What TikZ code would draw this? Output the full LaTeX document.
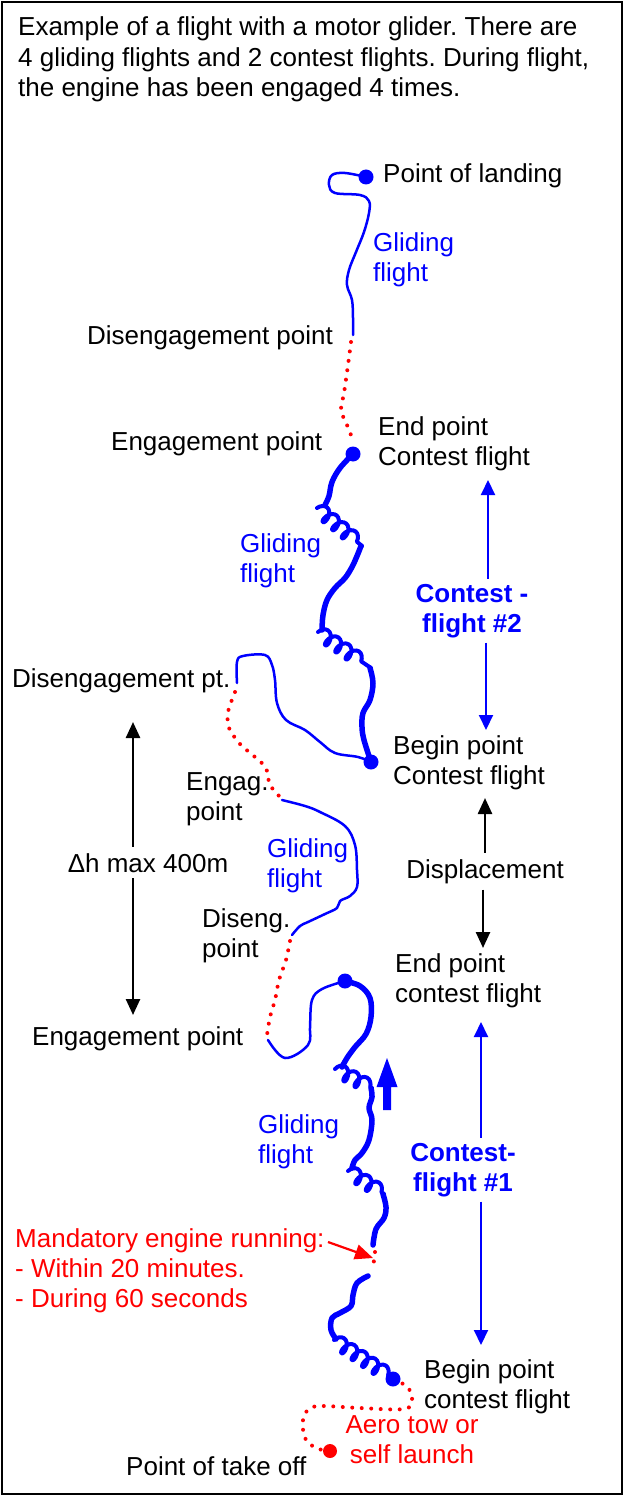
\documentclass[tikz,border=0pt]{standalone}
\usepackage{fontspec}
\setmainfont{Liberation Sans}
\usetikzlibrary{arrows.meta,decorations.pathmorphing}
\definecolor{tblue}{RGB}{0,0,255}
\definecolor{tred}{RGB}{255,0,0}
\frenchspacing
\begin{document}
\begin{tikzpicture}[x=1pt,y=-1pt,
  txt/.style={font=\fontsize{26}{30}\selectfont, inner sep=0pt, align=left, anchor=base west},
  bluetxt/.style={txt, text=tblue},
  redtxt/.style={txt, text=tred},
  cftxt/.style={font=\fontsize{26}{30}\selectfont\bfseries, text=tblue, inner sep=5pt, align=center, anchor=base},
  thinglide/.style={draw=tblue, line width=2.5pt, line cap=round, line join=round},
  thickglide/.style={draw=tblue, line width=5.5pt, line cap=round, line join=round},
  engine/.style={draw=tred, line width=4pt, line cap=round, dash pattern=on 0pt off 9.5pt},
  coilseg/.style={draw=tblue, line width=4pt, line cap=round, line join=round, decorate,
     decoration={coil, amplitude=7pt, segment length=12.5pt, aspect=0.6}},
  bdot/.style={circle, fill=tblue, inner sep=0pt, minimum size=15pt},
  rdot/.style={circle, fill=tred, inner sep=0pt, minimum size=14pt},
  barrow/.style={draw=tblue, line width=2pt, -{Triangle[length=15pt,width=14pt]}},
  karrow/.style={draw=black, line width=2.5pt, -{Triangle[length=16pt,width=14pt]}},
  rarrow/.style={draw=tred, line width=2.2pt, -{Triangle[length=18pt,width=15pt]}},
]
\useasboundingbox (0,0) rectangle (624,1495);
\draw[line width=2pt] (2,2) rectangle (621.5,1493.5);

% header (base anchor = baseline of the last line)
\node[txt, font=\fontsize{26}{30.5}\selectfont] (head) at (18,97)
  {Example of a flight with a motor glider. There are\\4 gliding flights and 2 contest flights. During flight,\\the engine has been engaged 4 times.};

% ---------- tracks ----------
% gliding flight 4 (top, thin)
\draw[thinglide] plot[smooth, tension=0.6] coordinates {(366,177) (345,173) (332,175) (329,185) (335,193) (360,195) (369,201) (369,213) (364,232) (356,252) (349,270) (347,285) (352,300) (353,318) (353,335)};
\draw[engine] plot[smooth] coordinates {(351,342) (348,365) (344,393) (341,410) (347,425) (353,440)};

% contest flight 2 (thick)
\draw[thickglide] plot[smooth, tension=0.6] coordinates {(353,454) (340,468) (332,482) (329,496) (325,505)};
\draw[coilseg] (317,508) -- (362,546);
\draw[thickglide] plot[smooth, tension=0.6] coordinates {(361,546) (357,556) (352,567) (345,578) (335,588) (327,600) (323,615) (322,630)};
\draw[coilseg] (318,632) -- (371,668);
\draw[thickglide] plot[smooth, tension=0.6] coordinates {(370,668) (373,683) (370,700) (363,713) (362,727) (364,740) (371,762)};

% gliding flight 3 (thin)
\draw[thinglide] plot[smooth, tension=0.6] coordinates {(371,762) (358,757) (335,753) (320,742) (305,730) (286,720) (277,703) (275,680) (272,665) (265,655) (243,656) (237,662) (237,683)};
\draw[engine] plot[smooth] coordinates {(235,692) (228,712) (229,728) (240,744) (255,757) (266,768) (270,785) (282,799)};

% gliding flight 2 (thin)
\draw[thinglide] plot[smooth, tension=0.6] coordinates {(282,800) (305,806) (320,812) (345,826) (355,845) (357,870) (357,887) (350,896) (340,901) (337,908) (325,914) (308,922) (300,926) (292,935)};
\draw[engine] plot[smooth] coordinates {(290,941) (286,960) (279,980) (275,1000) (270,1017) (267,1035)};

% gliding flight 1 part (thin)
\draw[thinglide] plot[smooth, tension=0.6] coordinates {(268,1040) (285,1058) (308,1045) (310,1025) (312,1000) (322,989) (345,981)};

% contest flight 1 (thick)
\draw[thickglide] plot[smooth, tension=0.6] coordinates {(345,981) (360,986) (370,998) (371,1017) (366,1034) (355,1047) (347,1058) (342,1067)};
\draw[coilseg] (335,1069) -- (372,1088);
\draw[thickglide] plot[smooth, tension=0.6] coordinates {(371,1088) (372,1097) (369,1108) (372,1120) (369,1140) (362,1153) (355,1160) (352,1168)};
\draw[coilseg] (348,1171) -- (384,1194);
\draw[thickglide] plot[smooth, tension=0.6] coordinates {(383,1194) (386,1207) (384,1218) (376,1229) (373,1245)};
\draw[engine] plot[smooth] coordinates {(375,1252) (374,1261) (370,1270)};
\draw[thickglide] plot[smooth, tension=0.6] coordinates {(368,1276) (357,1283) (353,1295) (351,1306) (340,1313) (332,1318) (331,1330) (336,1339)};
\draw[coilseg] (334,1340) -- (389,1376);

% take off tow
\draw[engine] plot[smooth, tension=0.6] coordinates {(330,1451) (316,1448) (305,1438) (303,1420) (309,1409) (322,1406) (360,1408) (404,1409) (412,1400) (409,1389) (400,1382)};

% dots
\node[bdot] (land) at (366,177) {};
\node[bdot] (eng1) at (353,454) {};
\node[bdot] (beg2) at (371,762) {};
\node[bdot] (end1) at (345,981) {};
\node[bdot] (beg1) at (393,1379) {};
\node[rdot] (takeoff) at (330,1451) {};

% climb direction arrow
\fill[tblue] (383,1110) -- (391,1110) -- (391,1087) -- (397.5,1087) -- (387,1058) -- (376.5,1087) -- (383,1087) -- cycle;

% ---------- labels (y = baseline of last line) ----------
\node[txt] (landtxt) at (383,183) {Point of landing};
\node[bluetxt] (g1) at (373,282) {Gliding\\flight};
\node[txt] (diseng1) at (87,344) {Disengagement point};
\node[txt] (eng1txt) at (111,450) {Engagement point};
\node[txt] (end2txt) at (378,465) {End point\\Contest flight};
\node[bluetxt] (g2) at (240,582) {Gliding\\flight};
\node[cftxt] (cf2) at (472,632) {Contest -\\flight \#2};
\node[txt] (diseng2) at (12,687) {Disengagement pt.};
\node[txt] (beg2txt) at (393,784) {Begin point\\Contest flight};
\node[txt] (engag) at (186,820) {Engag.\\point};
\node[bluetxt] (g3) at (267,887) {Gliding\\flight};
\node[font=\fontsize{26}{30}\selectfont, inner sep=6pt, anchor=base] (dh) at (148,872) {Δh max 400m};
\node[txt, inner sep=6pt, anchor=base] (disp) at (485,878) {Displacement};
\node[txt] (diseng3) at (202,957) {Diseng.\\point};
\node[txt] (end1txt) at (395,1002) {End point\\contest flight};
\node[txt] (eng3) at (32,1045) {Engagement point};
\node[bluetxt] (g4) at (258,1163) {Gliding\\flight};
\node[cftxt] (cf1) at (463,1191) {Contest-\\flight \#1};
\node[redtxt] (mand) at (15,1307) {Mandatory engine running:\\- Within 20 minutes.\\- During 60 seconds};
\node[txt] (beg1txt) at (424,1408) {Begin point\\contest flight};
\node[redtxt, align=center, anchor=base] (aero) at (412,1463) {Aero tow or\\self launch};
\node[txt] (takeofftxt) at (126,1475) {Point of take off};

% ---------- arrows ----------
\coordinate (c2top) at (488,480);
\coordinate (c2bot) at (486,730);
\draw[barrow] (cf2.north -| c2top) -- (c2top);
\draw[barrow] (cf2.south -| c2bot) -- (c2bot);

\coordinate (dtop) at (485,798);
\coordinate (dbot) at (483,948);
\draw[karrow] (disp.north -| dtop) -- (dtop);
\draw[karrow] (disp.south -| dbot) -- (dbot);

\coordinate (c1top) at (481,1022);
\coordinate (c1bot) at (481,1345);
\draw[barrow] (cf1.north -| c1top) -- (c1top);
\draw[barrow] (cf1.south -| c1bot) -- (c1bot);

\coordinate (dhtop) at (133,722);
\coordinate (dhbot) at (133,1015);
\draw[karrow] (dh.north -| dhtop) -- (dhtop);
\draw[karrow] (dh.south -| dhbot) -- (dhbot);

\coordinate (redfrom) at (328,1242);
\coordinate (redto) at (373,1258);
\draw[rarrow] (redfrom) -- (redto);
\end{tikzpicture}
\end{document}
